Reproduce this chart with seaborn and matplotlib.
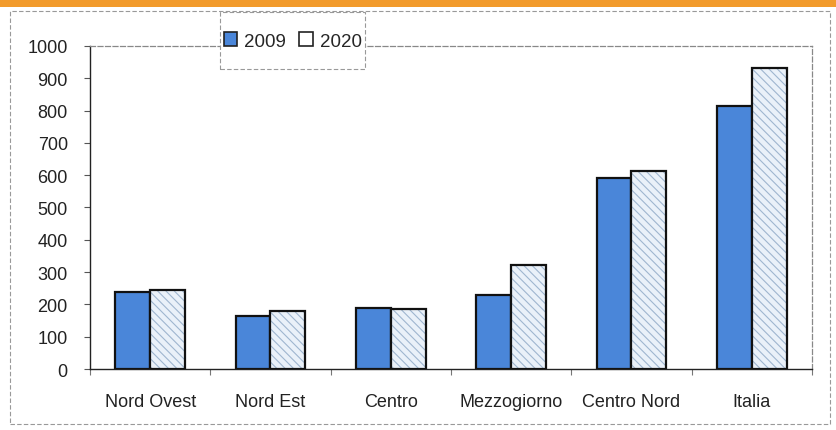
"""Bar chart 2009 vs 2020 by area, Excel-style with hatched 2020 bars."""
import matplotlib
matplotlib.use("Agg")
import matplotlib.pyplot as plt
import matplotlib.patches as mpatches
import pandas as pd
import seaborn as sns

AREAS = ["Nord Ovest", "Nord Est", "Centro", "Mezzogiorno", "Centro Nord", "Italia"]
YEARS = ["2009", "2020"]
VALUES_2009 = [238, 164, 189, 229, 591, 814]
VALUES_2020 = [245, 180, 186, 322, 613, 932]
Y_TICKS = [0, 100, 200, 300, 400, 500, 600, 700, 800, 900, 1000]

BLUE = "#4a86d9"
HATCH_BG = "#eaf1f9"
HATCH_LINE = "#9fb6cf"

df = pd.DataFrame({
    "area": AREAS * 2,
    "anno": [YEARS[0]] * len(AREAS) + [YEARS[1]] * len(AREAS),
    "valore": VALUES_2009 + VALUES_2020,
})

sns.set_theme(style="white")
plt.rcParams["font.family"] = ["Liberation Sans", "DejaVu Sans"]
plt.rcParams["hatch.linewidth"] = 0.8

fig = plt.figure(figsize=(8.37, 4.31), dpi=100)
ax = fig.add_axes([0.1075, 0.1415, 0.8625, 0.7495])

sns.barplot(data=df, x="area", y="valore", hue="anno", order=AREAS,
            hue_order=YEARS, palette=[BLUE, HATCH_BG], width=0.58,
            gap=0, saturation=1, edgecolor="#111111", linewidth=1.6,
            legend=False, ax=ax)

# 2020 bars: light hatch inside, black outline drawn on top
for bar in ax.containers[1]:
    bar.set_edgecolor(HATCH_LINE)
    bar.set_linewidth(0)
    bar.set_hatch("\\\\\\\\")
    ax.add_patch(mpatches.Rectangle(bar.get_xy(), bar.get_width(),
                                    bar.get_height(), fill=False,
                                    edgecolor="#111111", linewidth=1.6,
                                    zorder=bar.get_zorder() + 0.1))

ax.set_ylim(0, 1000)
ax.set_xlim(-0.5, len(AREAS) - 0.5)
ax.set_yticks(Y_TICKS)
ax.set_xlabel("")
ax.set_ylabel("")
ax.tick_params(axis="y", labelsize=13, length=4, width=0.8, color="#555555",
               direction="out", pad=12, left=True, labelcolor="#222222")
ax.tick_params(axis="x", labelsize=13, length=0, pad=17, labelcolor="#222222")
ax.set_xticks([i - 0.5 for i in range(len(AREAS) + 1)], minor=True)
ax.tick_params(axis="x", which="minor", length=4, width=0.8,
               color="#777777", direction="out", bottom=True)

for side in ["left", "bottom"]:
    ax.spines[side].set_color("#222222")
    ax.spines[side].set_linewidth(1.0)
for side in ["top", "right"]:
    ax.spines[side].set_color("#888888")
    ax.spines[side].set_linewidth(0.9)
    ax.spines[side].set_linestyle((0, (4, 2)))

handles = [mpatches.Patch(facecolor=BLUE, edgecolor="#222222", linewidth=1.2),
           mpatches.Patch(facecolor="white", edgecolor="#222222", linewidth=1.2)]
fig.legend(handles, YEARS, loc="center", bbox_to_anchor=(0.350, 0.9026),
           ncol=2, frameon=False, fontsize=13.5,
           handlelength=0.7, handleheight=0.7, handletextpad=0.4,
           columnspacing=0.7, borderaxespad=0, borderpad=0)

# legend box, orange band at the very top and the chart-area border
fig.patches.append(mpatches.Rectangle((0.263, 0.838), 0.173, 0.132,
                                      transform=fig.transFigure,
                                      facecolor="white", edgecolor="#999999",
                                      linewidth=0.8, linestyle=(0, (4, 2)),
                                      zorder=0))
fig.patches.append(mpatches.Rectangle((0, 0.982), 1, 0.018,
                                      transform=fig.transFigure,
                                      facecolor="#f29b2c", edgecolor="none"))
fig.patches.append(mpatches.Rectangle((0.012, 0.014), 0.98, 0.958,
                                      transform=fig.transFigure, fill=False,
                                      edgecolor="#999999", linewidth=0.8,
                                      linestyle=(0, (4, 2))))

fig.savefig("out.png", dpi=100)
